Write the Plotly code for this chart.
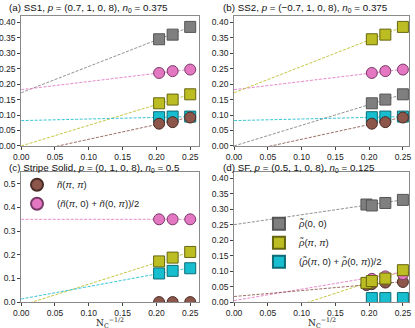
import plotly.graph_objects as go

# x positions (N_c^-1/2)
x_abc = [0.204, 0.224, 0.25]
x_d = [0.196, 0.204, 0.224, 0.25]
x_d3 = [0.204, 0.224, 0.25]
fit_x = [0.0, 0.25]

# (a) SS1
a_gray = [0.345, 0.360, 0.385]
a_pink = [0.236, 0.242, 0.247]
a_yellow = [0.138, 0.150, 0.167]
a_cyan = [0.093, 0.095, 0.095]
a_brown = [0.072, 0.077, 0.092]
a_fit = {'gray': [0.172, 0.385], 'pink': [0.182, 0.248], 'yellow': [0.0, 0.167],
         'cyan': [0.082, 0.095], 'brown': [-0.026, 0.093]}

# (b) SS2
b_gray = [0.138, 0.150, 0.167]
b_pink = [0.236, 0.242, 0.247]
b_yellow = [0.345, 0.360, 0.385]
b_cyan = [0.093, 0.095, 0.095]
b_brown = [0.072, 0.077, 0.092]
b_fit = {'gray': [0.0, 0.167], 'pink': [0.182, 0.248], 'yellow': [0.172, 0.385],
         'cyan': [0.082, 0.095], 'brown': [-0.026, 0.093]}

# (c) stripe solid
c_pink = [0.35, 0.35, 0.35]
c_yellow = [0.172, 0.188, 0.212]
c_cyan = [0.121, 0.132, 0.143]
c_brown = [0.0, 0.0, 0.0]
c_fit = {'pink': [0.35, 0.35], 'yellow': [-0.015, 0.212], 'cyan': [0.013, 0.145]}

# (d) SF
d_gray = [0.315, 0.312, 0.320, 0.330]
d_yellow = [0.062, 0.068, 0.076, 0.103]
d_pink = [0.075, 0.083, 0.090]
d_brown = [0.055, 0.058, 0.063, 0.065]
d_cyan = [0.013, 0.013, 0.013]
d_fit = {'gray': [0.25, 0.33], 'yellow': [-0.079, 0.10], 'pink': [0.005, 0.097],
         'brown': [0.018, 0.066]}

colors = {'gray': '#7f7f7f', 'yellow': '#bcbd22', 'cyan': '#17becf',
          'pink': '#e377c2', 'brown': '#8c564b'}
edges = {'gray': '#555555', 'yellow': '#666611', 'cyan': '#0e6c75',
         'pink': '#7a3a68', 'brown': '#4a2c27'}

titles = ['(a) SS1, <i>p</i> = (0.7, 1, 0, 8), <i>n</i><sub>0</sub> = 0.375',
          '(b) SS2, <i>p</i> = (\u22120.7, 1, 0, 8), <i>n</i><sub>0</sub> = 0.375',
          '(c) Stripe Solid, <i>p</i> = (0, 1, 0, 8), <i>n</i><sub>0</sub> = 0.5',
          '(d) SF, <i>p</i> = (0.5, 1, 0, 8), <i>n</i><sub>0</sub> = 0.125']
xlabel = 'N<sub>C</sub><sup>\u22121/2</sup>'

fig = go.Figure()


def add_fit(ax, c, ys):
    fig.add_trace(go.Scatter(x=fit_x, y=ys, mode='lines', xaxis='x' + ax, yaxis='y' + ax,
                             line=dict(color=colors[c], width=1, dash='3px,1.5px'),
                             opacity=0.85, showlegend=False, hoverinfo='skip'))


def add_pts(ax, c, xs, ys, sym, name=None, legend='legend'):
    fig.add_trace(go.Scatter(x=xs, y=ys, mode='markers', xaxis='x' + ax, yaxis='y' + ax,
                             marker=dict(symbol=sym, size=11, color=colors[c],
                                         line=dict(color=edges[c], width=1)),
                             name=name, showlegend=name is not None, legend=legend))


for ax, fits in [('', a_fit), ('2', b_fit), ('3', c_fit), ('4', d_fit)]:
    for c, ys in fits.items():
        add_fit(ax, c, ys)

add_pts('', 'gray', x_abc, a_gray, 'square')
add_pts('', 'pink', x_abc, a_pink, 'circle')
add_pts('', 'yellow', x_abc, a_yellow, 'square')
add_pts('', 'cyan', x_abc, a_cyan, 'square')
add_pts('', 'brown', x_abc, a_brown, 'circle')

add_pts('2', 'gray', x_abc, b_gray, 'square')
add_pts('2', 'pink', x_abc, b_pink, 'circle')
add_pts('2', 'yellow', x_abc, b_yellow, 'square')
add_pts('2', 'cyan', x_abc, b_cyan, 'square')
add_pts('2', 'brown', x_abc, b_brown, 'circle')

add_pts('3', 'brown', x_abc, c_brown, 'circle', '<i>ñ</i>(<i>π</i>, <i>π</i>)')
add_pts('3', 'pink', x_abc, c_pink, 'circle',
        '(<i>ñ</i>(<i>π</i>, 0) + <i>ñ</i>(0, <i>π</i>))/2')
add_pts('3', 'yellow', x_abc, c_yellow, 'square')
add_pts('3', 'cyan', x_abc, c_cyan, 'square')

add_pts('4', 'brown', x_d, d_brown, 'circle')
add_pts('4', 'pink', x_d3, d_pink, 'circle')
add_pts('4', 'gray', x_d, d_gray, 'square', '<i>ρ̃</i>(0, 0)', 'legend2')
add_pts('4', 'yellow', x_d, d_yellow, 'square', '<i>ρ̃</i>(<i>π</i>, <i>π</i>)', 'legend2')
add_pts('4', 'cyan', x_d3, d_cyan, 'square',
        '(<i>ρ̃</i>(<i>π</i>, 0) + <i>ρ̃</i>(0, <i>π</i>))/2', 'legend2')

left = [0.051, 0.4795]
right = [0.564, 0.9855]
top = [0.555, 0.951]
bot = [0.079, 0.4756]

axis_style = dict(showline=True, mirror=True, linecolor='#8a8a8a', linewidth=1,
                  ticks='outside', ticklen=3, tickcolor='#444', showgrid=False,
                  zeroline=False, automargin=False,
                  tickfont=dict(family='Liberation Sans', size=8.5, color='#222'))

lay = {}
for i, (xd, yd, xmax, yr, ydt, yfmt) in enumerate([
        (left, top, 0.263, [0, 0.42], 0.05, '.2f'),
        (right, top, 0.259, [0, 0.42], 0.05, '.2f'),
        (left, bot, 0.263, [0, 0.55], 0.1, '.1f'),
        (right, bot, 0.259, [0, 0.42], 0.05, '.2f')]):
    s = '' if i == 0 else str(i + 1)
    lay['xaxis' + s] = dict(axis_style, domain=xd, range=[0, xmax], dtick=0.05,
                            tickformat='.2f', anchor='y' + s)
    lay['yaxis' + s] = dict(axis_style, domain=yd, range=yr, dtick=ydt, tickformat=yfmt,
                            anchor='x' + s)

fig.update_layout(**lay)

anns = []
for t, xx, yy in zip(titles, [0.018, 0.533, 0.018, 0.533], [1.0, 1.0, 0.512, 0.512]):
    anns.append(dict(text=t, x=xx, y=yy, xref='paper', yref='paper', xanchor='left',
                     yanchor='top', showarrow=False,
                     font=dict(family='Liberation Sans', size=9.8, color='#111')))
for xx in [0.265, 0.775]:
    anns.append(dict(text=xlabel, x=xx, y=-0.008, xref='paper', yref='paper',
                     xanchor='center', yanchor='bottom', showarrow=False,
                     font=dict(family='DejaVu Serif', size=9, color='#222')))

fig.update_layout(
    width=415, height=328,
    margin=dict(l=0, r=0, t=0, b=0),
    paper_bgcolor='white', plot_bgcolor='white',
    font=dict(family='Liberation Sans', size=10, color='#222'),
    annotations=anns,
    legend=dict(x=0.041, y=0.481, xanchor='left', yanchor='top', bgcolor='rgba(0,0,0,0)',
                font=dict(size=9.5), itemsizing='constant', tracegroupgap=0),
    legend2=dict(x=0.624, y=0.362, xanchor='left', yanchor='top', bgcolor='rgba(0,0,0,0)',
                 font=dict(size=9.5), itemsizing='constant', tracegroupgap=0),
)

# drop the default body margin so the figure sits at the page corner
fig.write_html("out.html", config={'displayModeBar': False},
               post_script="document.body.style.margin='0';")
